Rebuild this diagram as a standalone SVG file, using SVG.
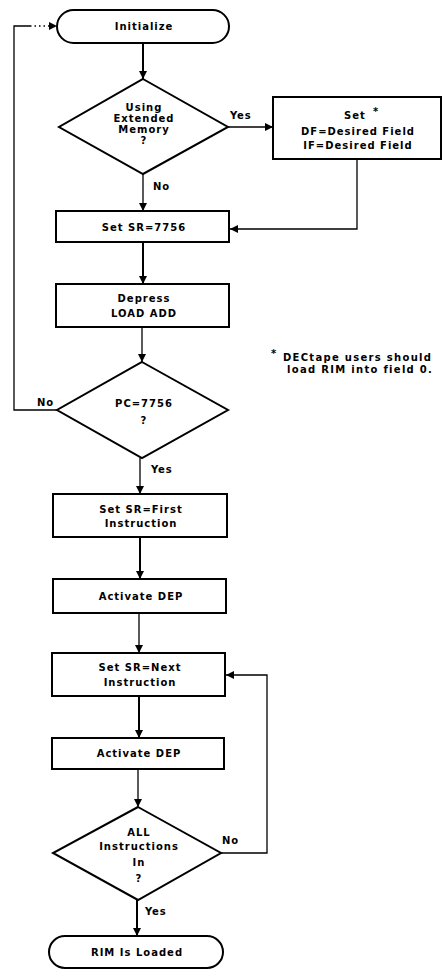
<svg xmlns="http://www.w3.org/2000/svg" width="442" height="972" viewBox="0 0 442 972">
<style>
.shape{fill:#fff;stroke:#000;stroke-width:2}
.t{font-family:"DejaVu Sans","Liberation Sans",sans-serif;font-size:10px;font-weight:bold;letter-spacing:1px;text-anchor:middle;fill:#000}
.l{font-family:"DejaVu Sans","Liberation Sans",sans-serif;font-size:10px;font-weight:bold;letter-spacing:0.8px;fill:#000}
.n{font-family:"DejaVu Sans","Liberation Sans",sans-serif;font-size:10px;font-weight:bold;letter-spacing:1.3px;fill:#000}
.thick{fill:none;stroke:#000;stroke-width:2}
.thin{fill:none;stroke:#000;stroke-width:1.3}
</style>
<defs>
<marker id="ah" viewBox="0 0 10 10" refX="10" refY="5" markerWidth="9" markerHeight="8" markerUnits="userSpaceOnUse" orient="auto">
<path d="M0,0 L10,5 L0,10 Z" fill="#000"/>
</marker>
</defs>
<rect width="442" height="972" fill="#fff"/>
<g id="connectors">
<line class="thick" x1="143" y1="43" x2="143" y2="79" marker-end="url(#ah)"/>
<line class="thin" x1="228" y1="127" x2="273" y2="127" marker-end="url(#ah)"/>
<polyline class="thin" points="357,159 357,229 230,229" marker-end="url(#ah)"/>
<line class="thin" x1="143" y1="174" x2="143" y2="211" marker-end="url(#ah)"/>
<line class="thick" x1="143" y1="242" x2="143" y2="284" marker-end="url(#ah)"/>
<line class="thin" x1="142" y1="327" x2="142" y2="362" marker-end="url(#ah)"/>
<polyline class="thin" points="57,410 14,410 14,26 30,26"/>
<line class="thin" x1="30" y1="26" x2="57" y2="26" stroke-dasharray="1.5 3" marker-end="url(#ah)"/>
<line class="thin" x1="140" y1="458" x2="140" y2="494" marker-end="url(#ah)"/>
<line class="thick" x1="140" y1="537" x2="140" y2="579" marker-end="url(#ah)"/>
<line class="thin" x1="139" y1="613" x2="139" y2="653" marker-end="url(#ah)"/>
<line class="thick" x1="139" y1="696" x2="139" y2="738" marker-end="url(#ah)"/>
<line class="thin" x1="138" y1="769" x2="138" y2="807" marker-end="url(#ah)"/>
<polyline class="thin" points="221,853 267,853 267,675 226,675" marker-end="url(#ah)"/>
<line class="thick" x1="137" y1="900" x2="137" y2="936" marker-end="url(#ah)"/>
<text class="l" x="230" y="119">Yes</text>
<text class="l" x="153" y="190">No</text>
<text class="l" x="37" y="406">No</text>
<text class="l" x="151" y="473">Yes</text>
<text class="l" x="222" y="844">No</text>
<text class="l" x="145" y="915">Yes</text>
</g>
<g id="initialize">
<rect class="shape" x="57" y="10" width="172" height="33" rx="16.5"/>
<text class="t" x="144" y="30">Initialize</text>
</g>
<g id="extended-memory">
<polygon class="shape" points="143,79 228,127 143,174 59,127"/>
<text class="t" x="144" y="111">Using</text>
<text class="t" x="144" y="122">Extended</text>
<text class="t" x="144" y="133">Memory</text>
<text class="t" x="144" y="144">?</text>
</g>
<g id="set-fields">
<rect class="shape" x="273" y="97" width="168" height="62"/>
<text class="t" x="355" y="119">Set</text>
<text class="l" x="373" y="115">*</text>
<text class="t" x="358" y="135">DF=Desired Field</text>
<text class="t" x="358" y="149">IF=Desired Field</text>
</g>
<g id="set-sr-7756">
<rect class="shape" x="56" y="211" width="173" height="31"/>
<text class="t" x="144" y="231">Set SR=7756</text>
</g>
<g id="depress-load-add">
<rect class="shape" x="56" y="284" width="173" height="43"/>
<text class="t" x="144" y="302">Depress</text>
<text class="t" x="144" y="317">LOAD ADD</text>
</g>
<g id="note">
<text class="l" x="271" y="357">*</text>
<text class="n" x="283" y="361">DECtape users should</text>
<text class="n" x="287" y="373">load RIM into field 0.</text>
</g>
<g id="pc-7756">
<polygon class="shape" points="142,362 228,410 142,458 57,410"/>
<text class="t" x="144" y="407">PC=7756</text>
<text class="t" x="144" y="424">?</text>
</g>
<g id="set-sr-first">
<rect class="shape" x="53" y="494" width="174" height="43"/>
<text class="t" x="141" y="513">Set SR=First</text>
<text class="t" x="141" y="527">Instruction</text>
</g>
<g id="activate-dep-1">
<rect class="shape" x="53" y="579" width="173" height="34"/>
<text class="t" x="141" y="600">Activate DEP</text>
</g>
<g id="set-sr-next">
<rect class="shape" x="52" y="653" width="173" height="43"/>
<text class="t" x="140" y="671">Set SR=Next</text>
<text class="t" x="140" y="686">Instruction</text>
</g>
<g id="activate-dep-2">
<rect class="shape" x="52" y="738" width="172" height="31"/>
<text class="t" x="139" y="757">Activate DEP</text>
</g>
<g id="all-instructions">
<polygon class="shape" points="138,807 221,853 138,900 53,853"/>
<text class="t" x="139" y="836">ALL</text>
<text class="t" x="139" y="850">Instructions</text>
<text class="t" x="139" y="866">In</text>
<text class="t" x="139" y="882">?</text>
</g>
<g id="rim-loaded">
<rect class="shape" x="49" y="936" width="174" height="32" rx="16"/>
<text class="t" x="137" y="956">RIM Is Loaded</text>
</g>
</svg>
